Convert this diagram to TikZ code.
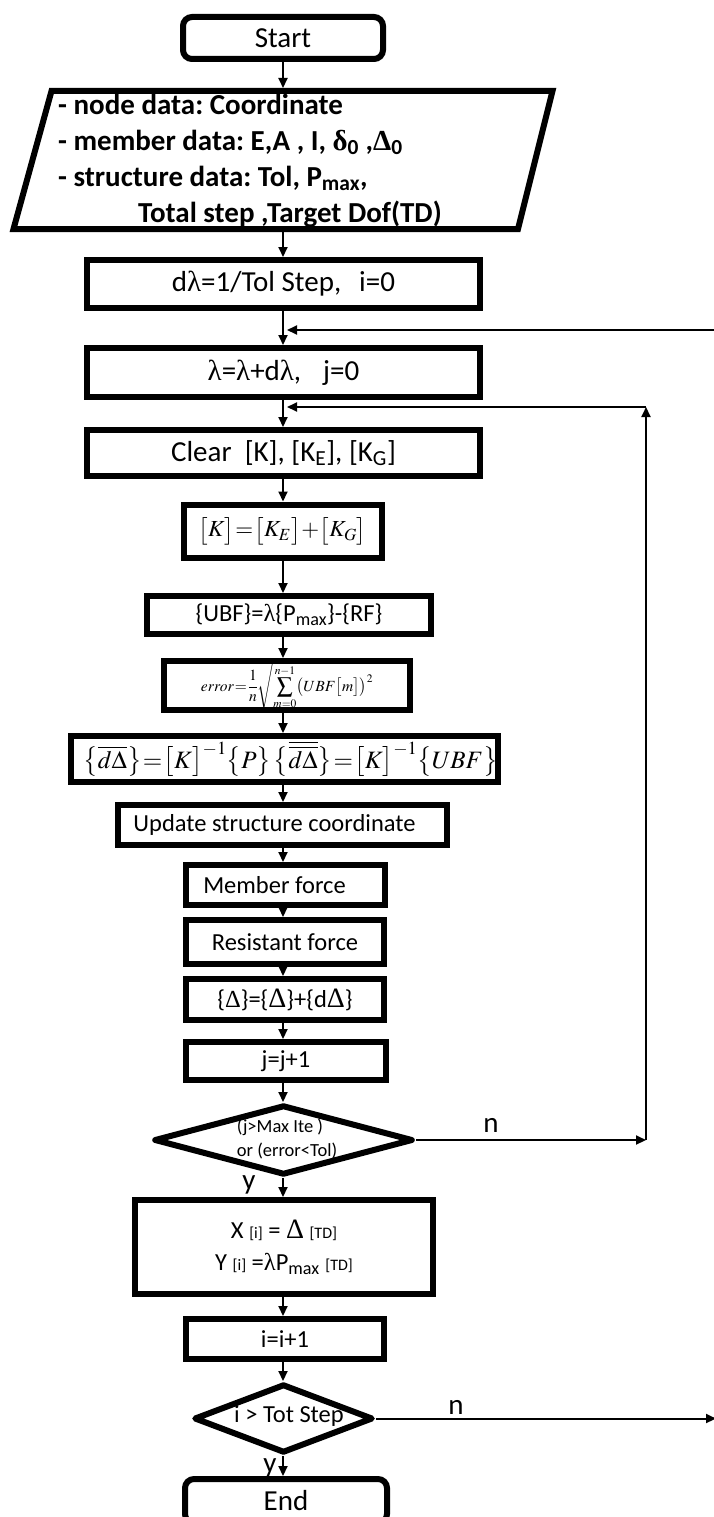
\documentclass[tikz,border=0pt]{standalone}
\usepackage{mathptmx}
\usepackage[no-math]{fontspec}
\setmainfont{Carlito}
\newfontfamily\symf{Liberation Serif}
\usetikzlibrary{arrows.meta,shapes.geometric}
\newcommand\fsz[2]{\fontsize{#1}{#2}\selectfont}
\newcommand\lam{{\symf λ}}
\newcommand\tightmath{\thickmuskip=1mu\medmuskip=0.5mu\thinmuskip=0.5mu}
\frenchspacing

\begin{document}
\begin{tikzpicture}[x=1pt,y=1pt,
  box/.style={draw, line width=6pt, inner sep=0pt, align=center},
  dia/.style={draw, diamond, line width=6pt, line join=round, inner sep=0pt},
  arr/.style={line width=2pt, -{Triangle[length=10pt,width=9pt]}},
  lbl/.style={inner sep=0pt, font=\fsz{29}{30}},
  t28/.style={font=\fsz{29}{32}},
  t24/.style={font=\fsz{24.5}{28}}]
\useasboundingbox (0,0) rectangle (714,-1517);
\coordinate (spine) at (283,0);
\coordinate (loopx) at (646,0);
\coordinate (offx) at (716,0);

% start and input data
\node[box, rounded corners=9pt, minimum width=200pt, minimum height=42pt, t28] (start) at (283,-38) {Start};
\node[minimum width=509.5pt, minimum height=144pt, inner sep=0pt, outer sep=0pt] (inp) at (283.75,-160) {};
\draw[line width=6pt, line join=miter] (51.5,-91) -- (552.5,-91) -- (518,-229) -- (13.5,-229) -- cycle;
\node[anchor=north west, inner sep=0pt, align=left, font=\fsz{29}{36}\bfseries] (inTxt) at (58,-94)
  {- node data: Coordinate\\
   - member data: E,A , I, {\symf δ}\textsubscript{0} ,{\symf Δ}\textsubscript{0}\\
   - structure data: Tol, P\textsubscript{max},\\
   \hspace*{80pt}Total step ,Target Dof(TD)};

% load stepping
\node[box, minimum width=393pt, minimum height=48pt, t28] (dl) at (283.5,-284) {d\lam=1/Tol Step,\hspace{18pt}i=0};
\node[box, minimum width=393pt, minimum height=49pt, t28] (lam) at (283.5,-372.5) {\lam=\lam+d\lam,\hspace{22pt}j=0};
\node[box, minimum width=393pt, minimum height=46pt, t28] (clr) at (283.5,-453) {Clear\ \ [K], [K\textsubscript{E}], [K\textsubscript{G}]};
\node[box, minimum width=198pt, minimum height=53pt, font=\fsz{23}{28}] (kmat) at (282.5,-531)
  {\tightmath$\bigl[K\bigr]=\bigl[K_E\bigr]+\bigl[K_G\bigr]$};
\node[box, minimum width=284pt, minimum height=38pt, t24] (ubf) at (289,-615) {\{UBF\}=\lam\{P\textsubscript{max}\}-\{RF\}};
\node[box, minimum width=246pt, minimum height=49pt, font=\fsz{15.5}{18}] (err) at (287,-685.5)
  {\tightmath$\displaystyle error=\frac{1}{n}\sqrt{\sum_{m=0}^{n-1}\bigl(UBF\bigl[m\bigr]\bigr)^2}$};
\node[box, minimum width=423pt, minimum height=46pt, font=\fsz{25}{26}] (dd) at (284.5,-759)
  {\hspace*{12pt}\tightmath$\bigl\{\overline{d\Delta}\bigr\}=\bigl[K\bigr]^{-1}\bigl\{P\bigr\}\;\;\bigl\{\overline{\overline{d\Delta}}\bigr\}=\bigl[K\bigr]^{-1}\bigl\{U\!BF\bigr\}$};
\node[box, minimum width=329pt, minimum height=40pt, t24] (upd) at (282.5,-825) {Update structure coordinate\hspace*{16pt}};
\node[box, minimum width=199pt, minimum height=40pt, t24] (mem) at (285.5,-885) {Member force\hspace*{22pt}};
\node[box, minimum width=198pt, minimum height=44pt, t24] (res) at (285,-942) {Resistant force};
\node[box, minimum width=198pt, minimum height=41pt, t24] (dsum) at (285,-999.5)
  {\{{\symf Δ}\}=\{{\symf\fsz{28}{28}Δ}\}+\{d{\symf\fsz{28}{28}Δ}\}};
\node[box, minimum width=200pt, minimum height=38pt, t24] (jj) at (286,-1061) {j=j+1};

% convergence test
\node[dia, minimum width=259pt, minimum height=70pt] (d1) at (283.5,-1140) {};
\node[inner sep=0pt, align=left, font=\fsz{18.5}{24}] (d1t) at (287,-1139) {(j>Max Ite )\\or (error<Tol)};

% result storage and step test
\node[box, minimum width=298pt, minimum height=94pt, t24] (xy) at (284,-1247)
  {X {\fsz{16}{16}[i]} = {\symf\fsz{28}{28}Δ} {\fsz{16}{16}[TD]}\\[4pt]
   Y {\fsz{16}{16}[i]} =\lam P\textsubscript{max} {\fsz{16}{16}[TD]}};
\node[box, minimum width=198pt, minimum height=40pt, t24] (ii) at (285,-1339) {i=i+1};
\node[dia, minimum width=179pt, minimum height=69pt] (d2) at (283.5,-1418.5) {};
\node[inner sep=0pt, t24] (d2t) at (289,-1416) {i > Tot Step};
\node[box, rounded corners=9pt, minimum width=202pt, minimum height=44pt, t28] (endb) at (286,-1501) {End};

% branch labels
\node[lbl] (n1) at (491,-1125) {n};
\node[lbl] (y1) at (249,-1185) {y};
\node[lbl] (n2) at (456,-1407) {n};
\node[lbl] (y2) at (270,-1468) {y};

% main flow
\foreach \a/\b in {start/inp, inp/dl, dl/lam, lam/clr, clr/kmat, kmat/ubf, ubf/err, err/dd,
                   dd/upd, upd/mem, mem/res, res/dsum, dsum/jj, jj/d1, d1/xy, xy/ii, ii/d2, d2/endb}
  \draw[arr] (\a.south -| spine) -- (\b.north -| spine);

% iteration loop
\coordinate (back) at (646,-407);
\draw[arr] (d1.east) -- (d1.east -| loopx);
\draw[arr] (d1.east -| loopx) -- (back);
\draw[arr, shorten >=4pt] (back) -- (back -| spine);

% load step loop
\coordinate (offB) at (716,-330);
\draw[arr] (d2.east) -- (d2.east -| offx);
\draw[arr, shorten >=4pt] (offB) -- (offB -| spine);
\end{tikzpicture}
\end{document}
